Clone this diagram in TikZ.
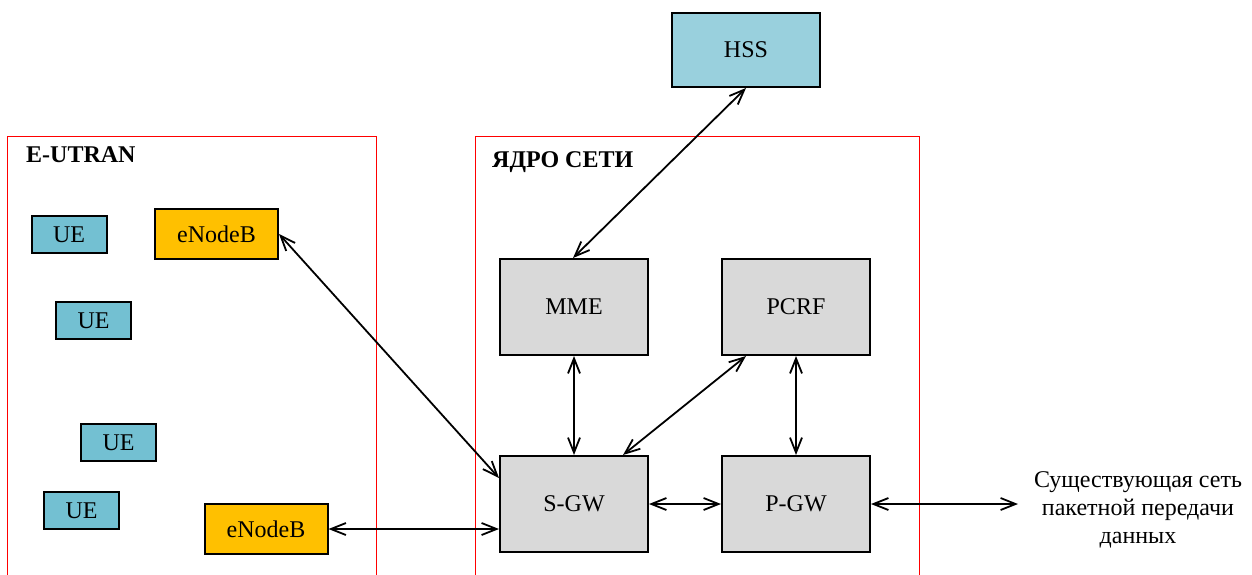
\documentclass[tikz,border=0pt]{standalone}
\usepackage{fontspec}
\setmainfont{Liberation Serif}
\usetikzlibrary{arrows.meta}
\definecolor{uecol}{RGB}{115,192,210}
\definecolor{hsscol}{RGB}{153,208,221}
\definecolor{enbcol}{RGB}{255,192,0}
\definecolor{gwcol}{RGB}{217,217,217}
\tikzset{
  box/.style={draw=black, line width=2pt, rectangle, inner sep=0pt, font=\fontsize{24}{28}\selectfont},
  uebox/.style={box, fill=uecol, minimum width=75pt, minimum height=37pt},
  enbbox/.style={box, fill=enbcol, minimum width=123pt, minimum height=50pt},
  corebox/.style={box, fill=gwcol, minimum width=148pt, minimum height=96pt},
  hssbox/.style={box, fill=hsscol, minimum width=148pt, minimum height=74pt},
  area/.style={draw=red, line width=0.8pt},
  heading/.style={font=\fontsize{24}{28}\selectfont\bfseries, anchor=base west, inner sep=0pt},
  link/.style={line width=1.8pt, {Straight Barb[length=15pt,width=12pt]}-{Straight Barb[length=15pt,width=12pt]}},
}
\begin{document}
\begin{tikzpicture}[x=1pt,y=-1pt]
\useasboundingbox (0,0) rectangle (1252,574);
% areas
\draw[area] (7,580) -- (7,136) -- (376,136) -- (376,580);
\draw[area] (475,580) -- (475,136) -- (919,136) -- (919,580);
\node[heading] (hE) at (26,162) {E-UTRAN};
\node[heading] (hC) at (492,167) {ЯДРО СЕТИ};
% nodes
\node[hssbox] (HSS) at (746,50) {HSS};
\node[corebox] (MME) at (574,307) {MME};
\node[corebox] (PCRF) at (796,307) {PCRF};
\node[corebox] (SGW) at (574,504) {S-GW};
\node[corebox] (PGW) at (796,504) {P-GW};
\node[uebox] (UE1) at (69,234.5) {UE};
\node[uebox] (UE2) at (93.5,320.5) {UE};
\node[uebox] (UE3) at (118.5,442.5) {UE};
\node[uebox] (UE4) at (81.5,510.5) {UE};
\node[enbbox] (ENB1) at (216.5,234) {eNodeB};
\node[enbbox] (ENB2) at (266,529) {eNodeB};
\node[align=center, inner sep=0pt, font=\fontsize{24}{28}\selectfont] (EXT) at (1138,510) {Существующая сеть\\пакетной передачи\\данных};
\coordinate (extend) at (1018,504);
% links
\draw[link] (ENB1.east) -- ([yshift=26pt]SGW.west);
\draw[link] (ENB2.east) -- ([yshift=-25pt]SGW.west);
\draw[link] (HSS.south) -- ([xshift=-1pt]MME.north);
\draw[link] (MME.south) -- (SGW.north);
\draw[link] ([xshift=-50pt]PCRF.south) -- ([xshift=49pt]SGW.north);
\draw[link] (PCRF.south) -- (PGW.north);
\draw[link] (SGW.east) -- (PGW.west);
\draw[link] (PGW.east) -- (extend);
\end{tikzpicture}
\end{document}
